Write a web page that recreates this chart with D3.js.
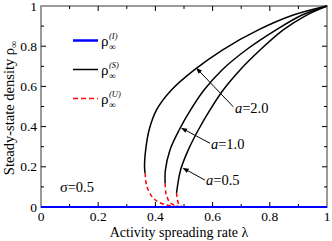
<!DOCTYPE html>
<html>
<head>
<meta charset="utf-8">
<script src="https://cdn.jsdelivr.net/npm/d3@7"></script>
<style>
body { margin: 0; background: #fff; }
text { font-family: "Liberation Serif", "Times New Roman", serif; fill: #000; }
</style>
</head>
<body>
<svg id="chart" width="332" height="241"></svg>
<script>
// axis ticks
const lambdaTicks = [0, 0.2, 0.4, 0.6, 0.8, 1];
const rhoTicks = [0, 0.2, 0.4, 0.6, 0.8, 1];
const minorTicks = [0.1, 0.3, 0.5, 0.7, 0.9];

// curve parameter a
const aValues = ["2.0", "1.0", "0.5"];

// stable branches rho_S, [lambda, rho]
const stableA20 = [[0.364, 0.168], [0.362, 0.2], [0.366, 0.284], [0.378, 0.383], [0.404, 0.483],
  [0.456, 0.582], [0.536, 0.682], [0.634, 0.781], [0.76, 0.881], [0.882, 0.955], [1, 1]];
const stableA10 = [[0.434, 0.118], [0.435, 0.184], [0.451, 0.284], [0.483, 0.383], [0.523, 0.483],
  [0.570, 0.582], [0.633, 0.682], [0.717, 0.781], [0.822, 0.881], [0.913, 0.955], [1, 1]];
const stableA05 = [[0.474, 0.070], [0.488, 0.184], [0.515, 0.284], [0.550, 0.383], [0.591, 0.483],
  [0.637, 0.582], [0.696, 0.682], [0.766, 0.781], [0.847, 0.881], [0.929, 0.955], [1, 1]];

// unstable branches rho_U
const unstableA20 = [[0.364, 0.168], [0.369, 0.109], [0.384, 0.060], [0.404, 0.030], [0.434, 0.012], [0.470, 0.003], [0.495, 0]];
const unstableA10 = [[0.434, 0.118], [0.437, 0.068], [0.449, 0.026], [0.469, 0.007], [0.495, 0]];
const unstableA05 = [[0.474, 0.070], [0.477, 0.035], [0.484, 0.010], [0.495, 0]];

// inactive state rho_I
const inactive = [[0, 0], [1, 0]];

// arrow annotations: head on the curve, tail near the label
const arrowHeads = [[0.544, 0.690], [0.492, 0.392], [0.4975, 0.193]];
const arrowTails = [[0.672, 0.499], [0.591, 0.317], [0.573, 0.134]];
const labelSpots = [[0.678, 0.468], [0.594, 0.289], [0.577, 0.109]];

const svg = d3.select("#chart");
const x = d3.scaleLinear().domain([0, 1]).range([41, 327]);
const y = d3.scaleLinear().domain([0, 1]).range([207, 6]);

const line = d3.line()
    .x(d => x(d[0]))
    .y(d => y(d[1]))
    .curve(d3.curveCatmullRom.alpha(0.5));

svg.append("defs").append("marker")
    .attr("id", "arr")
    .attr("viewBox", "0 0 10 10")
    .attr("refX", 9).attr("refY", 5)
    .attr("markerWidth", 6).attr("markerHeight", 6)
    .attr("markerUnits", "userSpaceOnUse")
    .attr("orient", "auto")
  .append("path")
    .attr("d", "M0,1L10,5L0,9z")
    .attr("fill", "#000");

// frame
svg.append("rect")
    .attr("x", x(0)).attr("y", y(1))
    .attr("width", x(1) - x(0)).attr("height", y(0) - y(1))
    .attr("fill", "none").attr("stroke", "#7a7a7a").attr("stroke-width", 1.5);

// ticks on all four sides, pointing inward
const tk = svg.append("g").attr("stroke", "#000").attr("stroke-width", 1);
function tickMarks(vals, len) {
  vals.forEach(v => {
    tk.append("line").attr("x1", x(v)).attr("x2", x(v)).attr("y1", y(0)).attr("y2", y(0) - len);
    tk.append("line").attr("x1", x(v)).attr("x2", x(v)).attr("y1", y(1)).attr("y2", y(1) + len);
    tk.append("line").attr("y1", y(v)).attr("y2", y(v)).attr("x1", x(0)).attr("x2", x(0) + len);
    tk.append("line").attr("y1", y(v)).attr("y2", y(v)).attr("x1", x(1)).attr("x2", x(1) - len);
  });
}
tickMarks(lambdaTicks.slice(1, -1), 5);
tickMarks(minorTicks, 3);

svg.append("g").selectAll("text").data(lambdaTicks).enter().append("text")
    .attr("x", d => x(d)).attr("y", 221)
    .attr("text-anchor", "middle").attr("font-size", 13.5)
    .text(d => d3.format("~g")(d));

svg.append("g").selectAll("text").data(rhoTicks).enter().append("text")
    .attr("x", 37).attr("y", d => y(d) + 4.5)
    .attr("text-anchor", "end").attr("font-size", 13.5)
    .text(d => d3.format("~g")(d));

// curves
[unstableA20, unstableA10, unstableA05].forEach(d => {
  svg.append("path").attr("d", line(d))
      .attr("fill", "none").attr("stroke", "#ff0000").attr("stroke-width", 1.5)
      .attr("stroke-dasharray", "4,3");
});
[stableA20, stableA10, stableA05].forEach(d => {
  svg.append("path").attr("d", line(d))
      .attr("fill", "none").attr("stroke", "#000").attr("stroke-width", 1.5);
});
svg.append("path").attr("d", d3.line().x(d => x(d[0])).y(d => y(d[1]))(inactive))
    .attr("fill", "none").attr("stroke", "#0000ff").attr("stroke-width", 2.2);

// a= labels with arrows
aValues.forEach((a, i) => {
  svg.append("line")
      .attr("x1", x(arrowTails[i][0])).attr("y1", y(arrowTails[i][1]))
      .attr("x2", x(arrowHeads[i][0])).attr("y2", y(arrowHeads[i][1]))
      .attr("stroke", "#000").attr("stroke-width", 1)
      .attr("marker-end", "url(#arr)");
  const t = svg.append("text")
      .attr("x", x(labelSpots[i][0])).attr("y", y(labelSpots[i][1]))
      .attr("font-size", 14.5);
  t.append("tspan").attr("font-style", "italic").text("a");
  t.append("tspan").text("=" + a);
});

svg.append("text").attr("x", x(0.066)).attr("y", y(0.075))
    .attr("font-size", 14.5).text("σ=0.5");

// legend: rho with stacked sub (inf) and superscript label
const legend = [
  {sup: "(I)", color: "#0000ff", w: 2.5, dash: null},
  {sup: "(S)", color: "#000", w: 1.5, dash: null},
  {sup: "(U)", color: "#ff0000", w: 1.5, dash: "5,3"}
];
const rowY = [40.5, 69.5, 98.5];
legend.forEach((d, i) => {
  svg.append("line").attr("x1", 73).attr("x2", 98).attr("y1", rowY[i]).attr("y2", rowY[i])
      .attr("stroke", d.color).attr("stroke-width", d.w).attr("stroke-dasharray", d.dash);
  svg.append("text").attr("x", 101).attr("y", rowY[i] + 5).attr("font-size", 15).text("ρ");
  svg.append("text").attr("x", 109).attr("y", rowY[i] + 9.5).attr("font-size", 9.5).text("∞");
  svg.append("text").attr("x", 109).attr("y", rowY[i] - 2).attr("font-size", 8.5)
      .attr("font-style", "italic").text(d.sup);
});

// axis titles
svg.append("text").attr("x", 179).attr("y", 237)
    .attr("text-anchor", "middle").attr("font-size", 14)
    .text("Activity spreading rate λ");

const yt = svg.append("text")
    .attr("transform", "translate(14,108) rotate(-90)")
    .attr("text-anchor", "middle").attr("font-size", 14.5);
yt.append("tspan").text("Steady-state density ρ");
yt.append("tspan").attr("font-size", 10).attr("dy", 3).text("∞");
</script>
</body>
</html>
